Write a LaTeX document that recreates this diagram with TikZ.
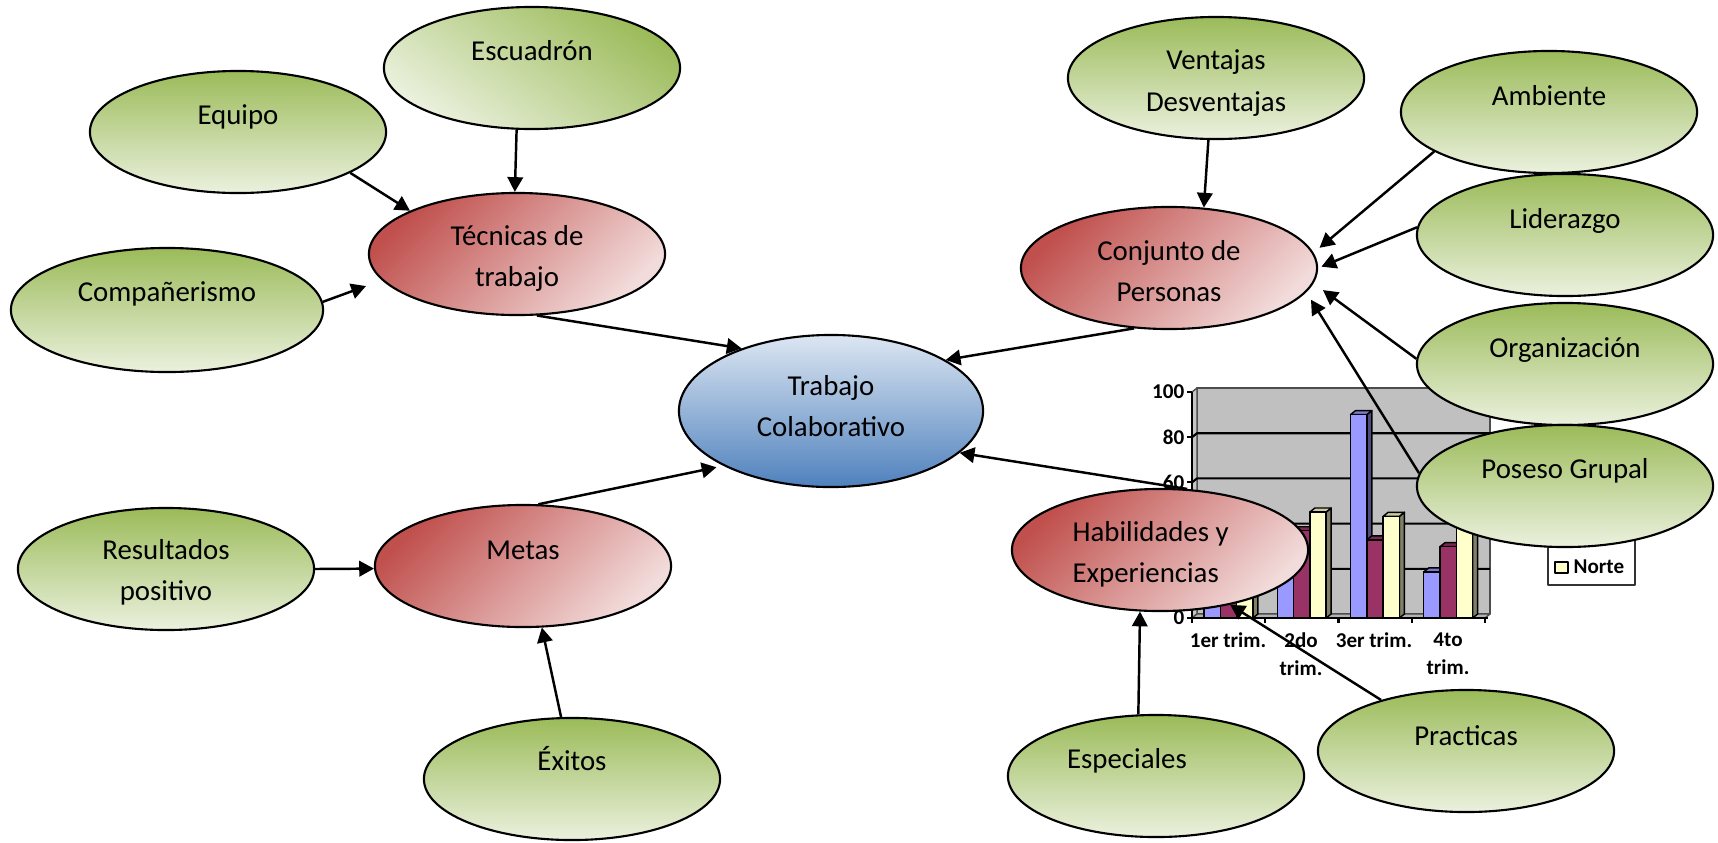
\documentclass[tikz,border=0pt]{standalone}
\usepackage{fontspec}
\setmainfont{Carlito}
\usetikzlibrary{shapes.geometric,arrows.meta}
\definecolor{verdeA}{HTML}{9BBB59}
\definecolor{verdeB}{HTML}{EBF1DE}
\definecolor{rojoA}{HTML}{C0504D}
\definecolor{rojoB}{HTML}{F2DCDB}
\definecolor{azulA}{HTML}{DCE6F2}
\definecolor{azulB}{HTML}{4F81BD}
\definecolor{este}{HTML}{9999FF}
\definecolor{oeste}{HTML}{993366}
\definecolor{norte}{HTML}{FFFFCC}
\definecolor{pared}{HTML}{C0C0C0}
\begin{document}
\begin{tikzpicture}[x=0.01cm,y=-0.01cm,line join=round,>={Triangle[length=4.2pt,width=4.4pt]}]
\tikzset{elip/.style={ellipse,draw=black,line width=.6pt,minimum width=2.96cm,minimum height=1.22cm,inner sep=0pt},
verde/.style={elip,top color=verdeA,bottom color=verdeB},
rojo/.style={elip,top color=rojoA,bottom color=rojoB,shading angle=45},
azul/.style={elip,top color=azulA,bottom color=azulB,minimum width=3.04cm,minimum height=1.52cm},
txt/.style={font=\fontsize{8.2}{11.7}\selectfont,align=center,inner sep=0pt},
uno/.style={txt,text height=6.2pt,text depth=1.6pt},
eje/.style={font=\fontsize{6}{7.9}\selectfont\bfseries,inner sep=0pt,align=center},
flecha/.style={->,line width=.7pt}}
\useasboundingbox (0,0) rectangle (1718,842);
% grafico de columnas
\filldraw[fill=pared,draw=gray!60!black,line width=.6pt] (1197,388) rectangle (1490,614);
\filldraw[fill=gray!45,draw=gray!60!black,line width=.4pt] (1192,392)--(1197,388)--(1197,614)--(1192,618)--cycle;
\filldraw[fill=gray!60,draw=gray!60!black,line width=.4pt] (1192,618)--(1197,614)--(1490,614)--(1485,618)--cycle;
\foreach \v in {20,40,60,80}
\draw[line width=.6pt] (1192,{618-2.26*\v})--++(5,-4)--(1490,{614-2.26*\v});
\foreach \k/\j/\v/\c in {0/0/20.4/este,0/1/30.6/oeste,0/2/45.9/norte,
1/0/27.4/este,1/1/38.6/oeste,1/2/46.9/norte,
2/0/90/este,2/1/34.6/oeste,2/2/45/norte,
3/0/20.4/este,3/1/31.6/oeste,3/2/43.9/norte}{
\pgfmathsetmacro\xa{1204+73.25*\k+16.3*\j}
\pgfmathsetmacro\xb{\xa+16.3}
\pgfmathsetmacro\yt{618-2.26*\v}
\filldraw[fill=\c!50!black,line width=.4pt] (\xb,\yt)--++(5,-4)--(\xb+5,614)--(\xb,618)--cycle;
\filldraw[fill=\c!80!black,line width=.4pt] (\xa,\yt)--++(5,-4)--(\xb+5,\yt-4)--(\xb,\yt)--cycle;
\filldraw[fill=\c,line width=.4pt] (\xa,618) rectangle (\xb,\yt);
}
\draw[line width=.6pt] (1192,392)--(1192,618)--(1488,618);
\foreach \v in {0,20,40,60,80,100}
\draw[line width=.6pt] (1192,{618-2.26*\v})--(1187,{618-2.26*\v});
\foreach \v in {0,60,80,100}
\node[eje,anchor=east] (y\v) at (1185,{618-2.26*\v}) {\v};
\foreach \k in {0,...,4}
\draw[line width=.6pt] (1192+73.25*\k,618)--++(0,5);
\node[eje,anchor=north] (x1) at (1228,632) {1er trim.};
\node[eje,anchor=north] (x2) at (1301,632) {2do\\trim.};
\node[eje,anchor=north] (x3) at (1374,632) {3er trim.};
\node[eje,anchor=north] (x4) at (1448,632) {4to\\trim.};
\filldraw[fill=white,draw=black!80,line width=.6pt] (1548,500) rectangle (1635,585);
\filldraw[fill=norte,line width=.5pt] (1555,562) rectangle (1568,573);
\node[eje,anchor=west] (leyenda) at (1573,567) {Norte};
% ideas principales
\node[azul] (trabajo) at (831,411) {};
\node[rojo] (tecnicas) at (517,254) {};
\node[rojo] (metas) at (523,566) {};
\node[rojo] (conjunto) at (1169,268) {};
\node[rojo] (habilidades) at (1160,550) {};
% ideas secundarias
\node[verde,shading angle=-35] (escuadron) at (532,68) {};
\node[verde] (equipo) at (238,132) {};
\node[verde,minimum width=3.12cm,minimum height=1.24cm] (companerismo) at (167,310) {};
\node[verde] (resultados) at (166,569) {};
\node[verde] (exitos) at (572,779) {};
\node[verde] (ventajas) at (1216,78) {};
\node[verde] (ambiente) at (1549,112) {};
\node[verde] (liderazgo) at (1565,235) {};
\node[verde] (organizacion) at (1565,364) {};
\node[verde] (poseso) at (1565,486) {};
\node[verde] (especiales) at (1156,776) {};
\node[verde] (practicas) at (1466,751) {};
% textos
\node[txt] (t-trabajo) at ([yshift=.5mm]trabajo.center) {Trabajo\\Colaborativo};
\node[txt] (t-tecnicas) at ([yshift=-.45mm]tecnicas.center) {Técnicas de\\trabajo};
\node[uno] (t-metas) at ([yshift=1.5mm]metas.center) {Metas};
\node[txt] (t-conjunto) at ([yshift=-.3mm]conjunto.center) {Conjunto de\\Personas};
\node[txt,align=left,anchor=west] (t-habilidades) at ([xshift=-8.8mm,yshift=-.45mm]habilidades.center) {Habilidades y\\Experiencias};
\node[uno] (t-escuadron) at ([yshift=1.6mm]escuadron.center) {Escuadrón};
\node[uno] (t-equipo) at ([yshift=1.6mm]equipo.center) {Equipo};
\node[uno] (t-companerismo) at ([yshift=1.7mm]companerismo.center) {Compañerismo};
\node[txt] (t-resultados) at ([yshift=-.35mm]resultados.center) {Resultados\\positivo};
\node[uno] (t-exitos) at ([yshift=1.7mm]exitos.center) {Éxitos};
\node[txt] (t-ventajas) at ([yshift=-.5mm]ventajas.center) {Ventajas\\Desventajas};
\node[uno] (t-ambiente) at ([yshift=1.5mm]ambiente.center) {Ambiente};
\node[uno] (t-liderazgo) at ([yshift=1.5mm]liderazgo.center) {Liderazgo};
\node[uno] (t-organizacion) at ([yshift=1.5mm]organizacion.center) {Organización};
\node[uno] (t-poseso) at ([yshift=1.6mm]poseso.center) {Poseso Grupal};
\node[uno] (t-especiales) at ([xshift=-2.9mm,yshift=1.6mm]especiales.center) {Especiales};
\node[uno] (t-practicas) at ([yshift=1.4mm]practicas.center) {Practicas};
% flechas
\draw[flecha] (equipo.-20)--(tecnicas.158);
\draw[flecha] (escuadron.-104)--(tecnicas.92);
\draw[flecha,shorten >=4.8pt] (companerismo.3)--(tecnicas.191);
\draw[flecha] (tecnicas.-72)--(trabajo.145);
\draw[flecha,shorten >=2pt] (metas.76)--(trabajo.207);
\draw[flecha] (resultados.0)--(metas.181);
\draw[flecha] (exitos.100)--(metas.-73);
\draw[flecha] (conjunto.240)--(trabajo.24);
\draw[flecha] (habilidades.66)--(trabajo.-18);
\draw[flecha] (ventajas.-97)--(conjunto.60);
\draw[flecha,shorten >=2.2pt] (ambiente.199)--(conjunto.6);
\draw[flecha,shorten >=1pt] (liderazgo.177)--(conjunto.0);
\draw[flecha,shorten >=3.3pt] (organizacion.178)--(conjunto.-6);
\draw[flecha,shorten >=2.5pt] (poseso.175)--(conjunto.-10);
\draw[flecha] (especiales.106)--(habilidades.-108);
\draw[flecha] (practicas.149)--(habilidades.-38);
\end{tikzpicture}
\end{document}
